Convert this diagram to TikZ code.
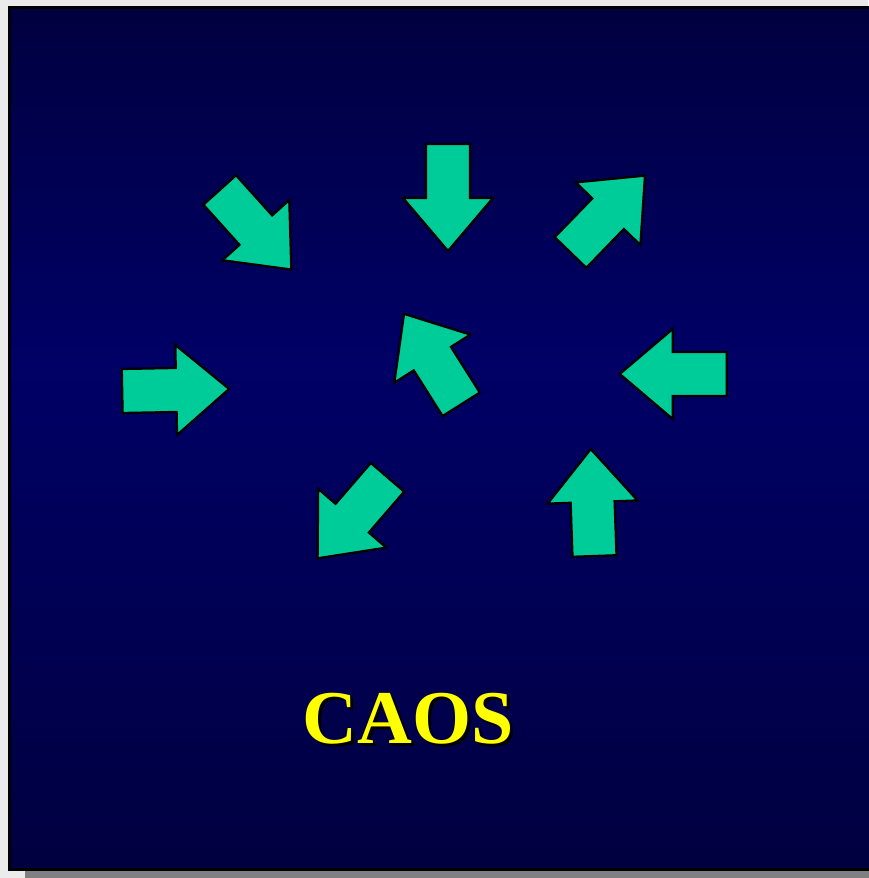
\documentclass[tikz,border=0pt]{standalone}
\usepackage{fontspec}
\setmainfont{Liberation Serif}
\usepackage{tikz}
\definecolor{slidegray}{rgb}{0.92, 0.92, 0.92}
\definecolor{shadowgray}{rgb}{0.5, 0.5, 0.5}
\definecolor{nightblue}{rgb}{0.0, 0.0, 0.25}
\definecolor{royalnight}{rgb}{0.0, 0.0, 0.4}
\definecolor{caosgreen}{rgb}{0.0, 0.8, 0.6}
\definecolor{caosyellow}{rgb}{1.0, 1.0, 0.0}
\tikzset{arrowshape/.style={fill=caosgreen,draw=black,line width=1.6pt,line join=miter},
	titlefont/.style={anchor=base,inner sep=0pt,font=\fontsize{54}{60}\bfseries\selectfont}}
\newcommand{\blockarrow}[2]{%
	\draw[arrowshape,shift={(#1)},rotate=#2]
		(0,-22) -- (54,-22) -- (54,-45) -- (107,0) -- (54,45) -- (54,22) -- (0,22) -- cycle;}

\begin{document}
\begin{tikzpicture}[x=0.025cm,y=0.025cm]
					\useasboundingbox[fill=slidegray] (0,0) rectangle (868,-878);
					\fill[shadowgray] (25,-860) rectangle (870,-878);
					\fill[top color=nightblue,bottom color=royalnight,shading angle=0]
						(9.5,-7.5) rectangle (875,-360);
					\fill[top color=royalnight,bottom color=nightblue]
						(9.5,-359.5) rectangle (875,-869.5);
					\draw[black,line width=2.2pt] (9.5,-7.5) rectangle (875,-869.5);
					\coordinate (arrtop) at (448,-144);
					\coordinate (arrtopleft) at (219.7,-190);
					\coordinate (arrtopright) at (570.5,-252.5);
					\coordinate (arrright) at (726.7,-374);
					\coordinate (arrbottomright) at (594.5,-556);
					\coordinate (arrbottomleft) at (387.5,-477.3);
					\coordinate (arrleft) at (122.2,-391);
					\coordinate (arrcentre) at (461.2,-404.3);
					\blockarrow{arrtop}{-90}
					\blockarrow{arrtopleft}{-48}
					\blockarrow{arrtopright}{45.9}
					\blockarrow{arrright}{180}
					\blockarrow{arrbottomright}{92}
					\blockarrow{arrbottomleft}{229.2}
					\blockarrow{arrleft}{1.1}
					\blockarrow{arrcentre}{122.3}
					\node[titlefont,black] (titleshadow) at (411,-746) {CAOS};
					\node[titlefont,caosyellow] (title) at (408,-743) {CAOS};
				\end{tikzpicture}
\end{document}
